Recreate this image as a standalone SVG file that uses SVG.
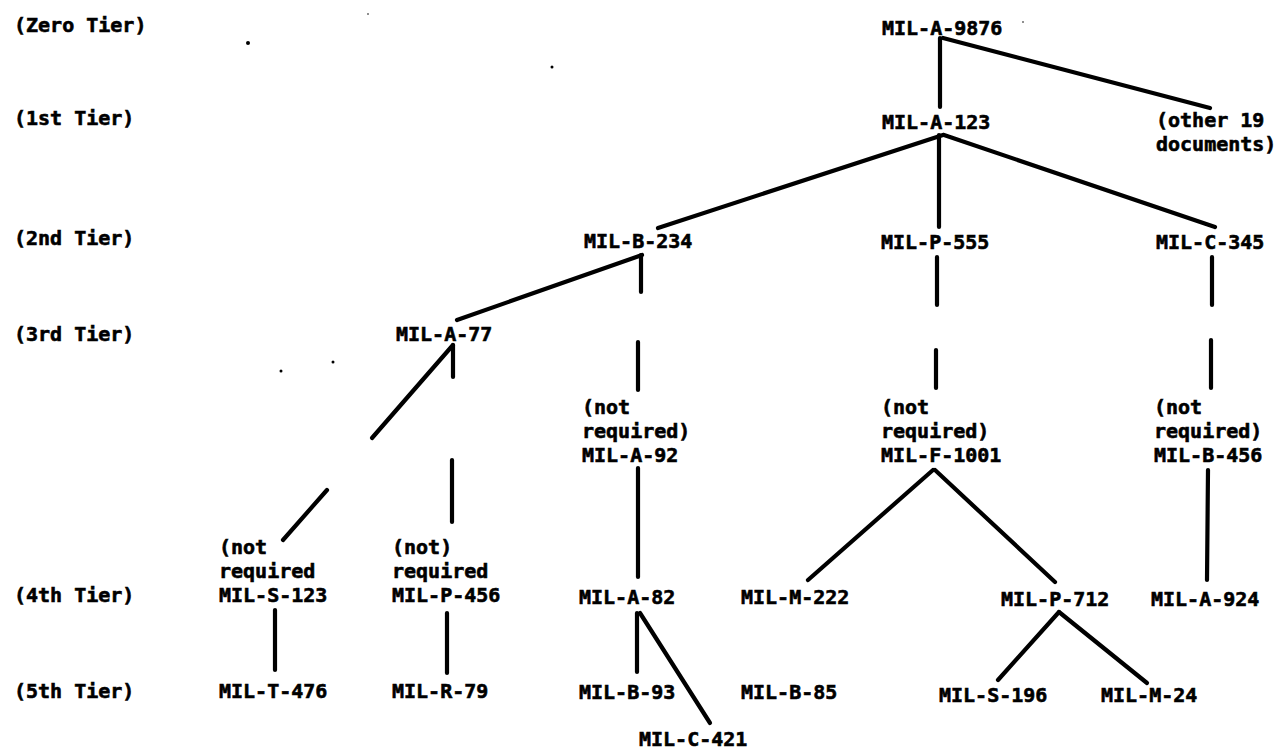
<svg xmlns="http://www.w3.org/2000/svg" width="1283" height="750" viewBox="0 0 1283 750">
<style>
text{font-family:"DejaVu Sans Mono","Liberation Mono",monospace;font-weight:bold;font-size:20px;fill:#000;stroke:#000;stroke-width:0.6}
.c line{stroke:#000;stroke-width:4.2;stroke-linecap:round}
</style>
<rect width="1283" height="750" fill="#fff"/>
<g id="tiers">
<text x="14" y="32">(Zero Tier)</text>
<text x="14" y="125">(1st Tier)</text>
<text x="14" y="245">(2nd Tier)</text>
<text x="14" y="341">(3rd Tier)</text>
<text x="14" y="602">(4th Tier)</text>
<text x="14" y="698">(5th Tier)</text>
</g>
<g id="specks" fill="#000">
<circle cx="248" cy="43" r="2"/>
<circle cx="368" cy="14" r="0.8"/>
<circle cx="552" cy="67" r="1.5"/>
<circle cx="1023" cy="22" r="0.8"/>
<circle cx="281" cy="371" r="1.5"/>
<circle cx="333" cy="362" r="1.5"/>
</g>
<g id="n-a9876"><text x="882" y="35">MIL-A-9876</text></g>
<g id="n-a123"><text x="882" y="129">MIL-A-123</text></g>
<g id="n-other"><text x="1156" y="127">(other 19</text><text x="1156" y="151">documents)</text></g>
<g id="n-b234"><text x="584" y="248">MIL-B-234</text></g>
<g id="n-p555"><text x="881" y="249">MIL-P-555</text></g>
<g id="n-c345"><text x="1156" y="249">MIL-C-345</text></g>
<g id="n-a77"><text x="396" y="341">MIL-A-77</text></g>
<g id="n-a92"><text x="582" y="414">(not</text><text x="582" y="438">required)</text><text x="582" y="462">MIL-A-92</text></g>
<g id="n-f1001"><text x="881" y="414">(not</text><text x="881" y="438">required)</text><text x="881" y="462">MIL-F-1001</text></g>
<g id="n-b456"><text x="1154" y="414">(not</text><text x="1154" y="438">required)</text><text x="1154" y="462">MIL-B-456</text></g>
<g id="n-s123"><text x="219" y="554">(not</text><text x="219" y="578">required</text><text x="219" y="602">MIL-S-123</text></g>
<g id="n-p456"><text x="392" y="554">(not)</text><text x="392" y="578">required</text><text x="392" y="602">MIL-P-456</text></g>
<g id="n-a82"><text x="579" y="604">MIL-A-82</text></g>
<g id="n-m222"><text x="741" y="604">MIL-M-222</text></g>
<g id="n-p712"><text x="1001" y="606">MIL-P-712</text></g>
<g id="n-a924"><text x="1151" y="606">MIL-A-924</text></g>
<g id="n-t476"><text x="219" y="698">MIL-T-476</text></g>
<g id="n-r79"><text x="392" y="698">MIL-R-79</text></g>
<g id="n-b93"><text x="579" y="699">MIL-B-93</text></g>
<g id="n-b85"><text x="741" y="699">MIL-B-85</text></g>
<g id="n-s196"><text x="939" y="702">MIL-S-196</text></g>
<g id="n-m24"><text x="1101" y="702">MIL-M-24</text></g>
<g id="n-c421"><text x="639" y="746">MIL-C-421</text></g>
<g id="connectors" class="c">
<line x1="940" y1="38" x2="940" y2="107"/>
<line x1="943" y1="38" x2="1210" y2="108"/>
<line x1="943" y1="135" x2="658" y2="228"/>
<line x1="939" y1="135" x2="939" y2="227"/>
<line x1="944" y1="135" x2="1215" y2="227"/>
<line x1="642" y1="255" x2="457" y2="320"/>
<line x1="641" y1="255" x2="641" y2="292"/>
<line x1="638" y1="342" x2="638" y2="390"/>
<line x1="638" y1="468" x2="638" y2="577"/>
<line x1="453" y1="345" x2="372" y2="438"/>
<line x1="453" y1="345" x2="453" y2="377"/>
<line x1="327" y1="490" x2="283" y2="540"/>
<line x1="452" y1="460" x2="452" y2="522"/>
<line x1="275" y1="610" x2="275" y2="670"/>
<line x1="447" y1="613" x2="447" y2="673"/>
<line x1="637" y1="613" x2="637" y2="672"/>
<line x1="640" y1="613" x2="710" y2="723"/>
<line x1="937" y1="257" x2="937" y2="305"/>
<line x1="936" y1="350" x2="936" y2="388"/>
<line x1="933" y1="470" x2="808" y2="580"/>
<line x1="935" y1="470" x2="1055" y2="582"/>
<line x1="1212" y1="257" x2="1212" y2="305"/>
<line x1="1211" y1="340" x2="1211" y2="388"/>
<line x1="1208" y1="470" x2="1207" y2="580"/>
<line x1="1059" y1="612" x2="998" y2="680"/>
<line x1="1059" y1="612" x2="1147" y2="683"/>
</g>
</svg>
